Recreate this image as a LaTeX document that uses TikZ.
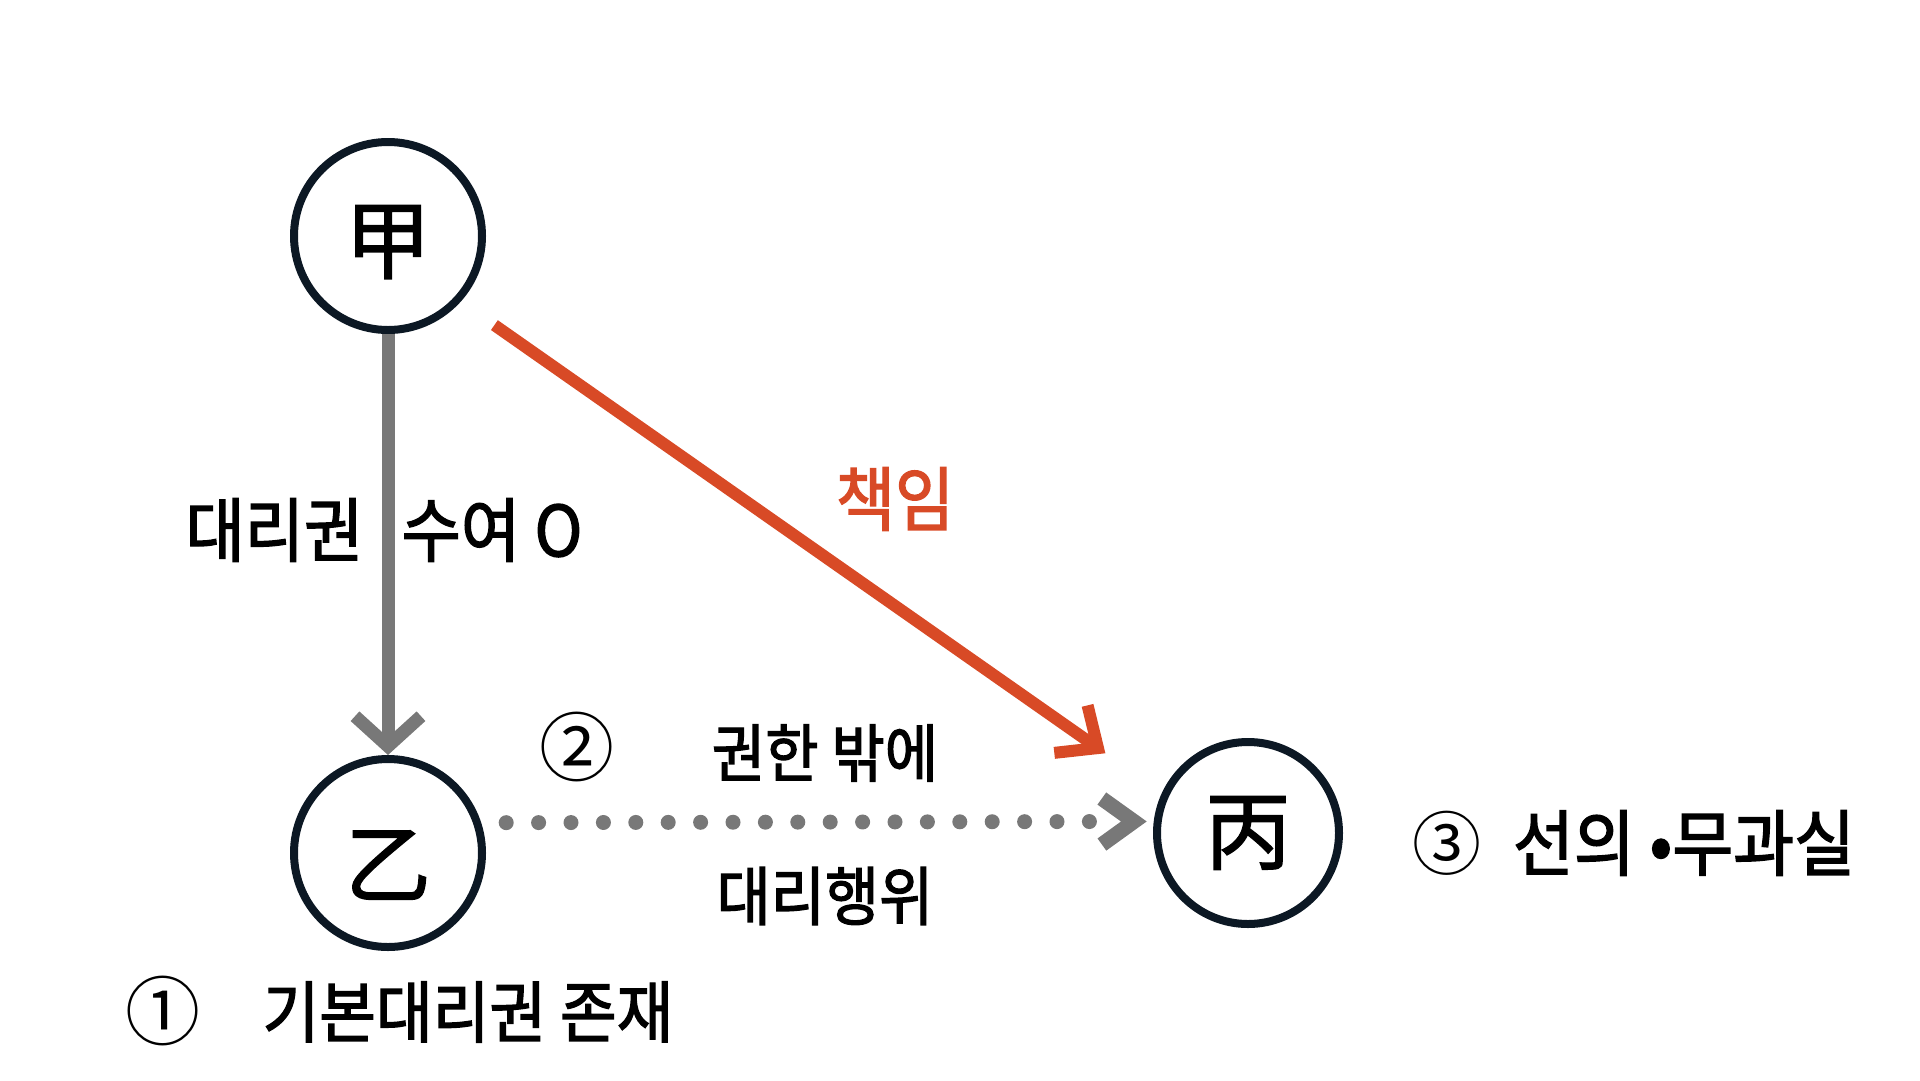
\documentclass[tikz,border=0pt]{standalone}
\usepackage{fontspec}
\setmainfont{Noto Sans CJK KR}
\newfontfamily\krfont[FakeStretch=0.92,FakeBold=2]{Noto Sans CJK KR}
\newfontfamily\hanfont[FakeBold=1.5]{Noto Sans CJK KR}
\newfontfamily\numfont{Noto Sans CJK KR}
\usepackage{tikz}
\usetikzlibrary{arrows.meta}
\definecolor{ink}{HTML}{0C1824}
\definecolor{arrgray}{HTML}{787878}
\definecolor{liabred}{HTML}{D84A26}

\begin{document}
\begin{tikzpicture}[
  x=1pt, y=-1pt,
  party/.style={circle, draw=ink, line width=8pt, minimum size=188pt, inner sep=0pt},
  hanja/.style={inner sep=0pt, font=\hanfont\fontsize{86}{86}\selectfont},
  lbl/.style={inner sep=0pt, font=\krfont\fontsize{#1}{#1}\selectfont},
  lbl/.default=64,
  num/.style={inner sep=0pt, font=\numfont\fontsize{#1}{#1}\selectfont},
  num/.default=75,
  arr/.style={arrgray, line width=13pt, -{Straight Barb[length=30pt, width=66pt, sharp]}},
  hot/.style={liabred, line width=12pt, -{Straight Barb[length=33pt, width=58pt, sharp]}},
  dotln/.style={arrgray, line width=15pt, line cap=round, dash pattern=on 0pt off 32.4pt,
    shorten <=25pt, shorten >=60pt,
    postaction={draw, line cap=butt, dash pattern=on 0pt off 4000pt, shorten <=0pt, shorten >=7pt,
      -{Straight Barb[length=32pt, width=46pt, sharp]}}}
]
\useasboundingbox (0,0) rectangle (1920,1080);
% parties
\node[party, label={[hanja, yshift=-6pt]center:甲}] (gap) at (388,236) {};
\node[party, label={[hanja, yshift=-12pt]center:乙}] (eul) at (388,853) {};
\node[party, minimum size=182pt, label={[hanja]center:丙}] (byeong) at (1248,833) {};

% labels
\node[lbl=70] (grant) at (384,530) {대리권\hspace{24pt} 수여 O};
\node[lbl=70, text=liabred] (liab) at (895,499) {책임};
\node[num] (n2) at (577,747) {②};
\node[lbl=63] (outside) at (825,753) {권한 밖에};
\node[lbl=64] (act) at (825,896) {대리행위};
\node[num=69] (n3) at (1447,843) {③};
\node[lbl=72] (good) at (1684,843) {선의 •무과실};
\node[num] (n1) at (163,1011) {①};
\node[lbl=67] (basic) at (468,1012) {기본대리권 존재};

\draw[arr] (gap) -- (eul);
\draw[hot, shorten <=41pt, shorten >=69pt] (gap.-42.6) -- (byeong.155);
\draw[dotln] (eul.18) -- (byeong.173);
\end{tikzpicture}
\end{document}
